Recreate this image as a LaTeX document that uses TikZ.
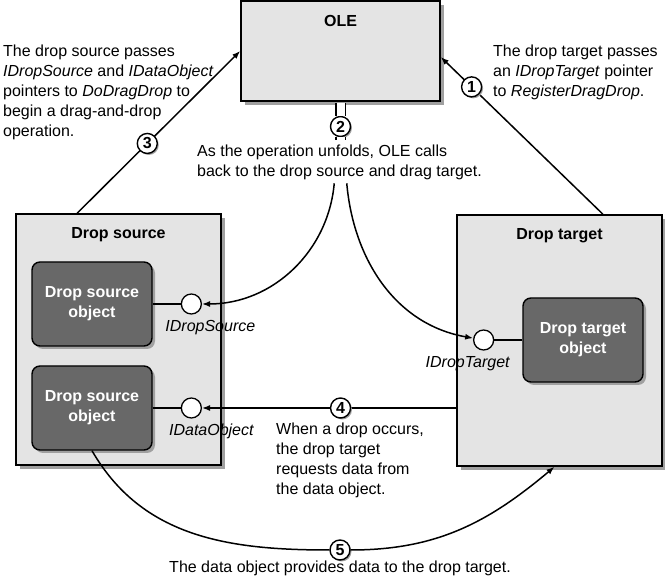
\documentclass[tikz,border=0pt]{standalone}
\usepackage{fontspec}
\setmainfont{Liberation Sans}
\usepackage{tikz}
\usetikzlibrary{arrows.meta,positioning,calc,shadows}
\definecolor{panelgray}{RGB}{228,228,228}
\definecolor{objectgray}{RGB}{104,104,104}
\definecolor{shadowgray}{RGB}{160,160,160}
\newcommand{\diagfont}{\fontsize{16}{20}\selectfont}

\begin{document}
\begin{tikzpicture}[
    x=1pt, y=1pt,
    font=\diagfont,
    panel/.style={draw, line width=1.6pt, fill=panelgray, drop shadow={shadow xshift=4pt, shadow yshift=-4pt, fill=shadowgray, opacity=1}},
    object/.style={draw, line width=1.4pt, rounded corners=8pt, fill=objectgray, text=white, align=center, font=\diagfont\bfseries, minimum width=120pt, minimum height=84pt, drop shadow={shadow xshift=3pt, shadow yshift=-3pt, fill=shadowgray, opacity=1}},
    title/.style={font=\diagfont\bfseries},
    iface/.style={circle, draw, line width=1.3pt, fill=white, minimum size=20pt, inner sep=0pt},
    ifacelabel/.style={font=\diagfont\itshape, inner sep=0pt},
    numcircle/.style={circle, draw, line width=1.4pt, fill=white, minimum size=20pt, inner sep=0pt, font=\diagfont\bfseries, drop shadow={shadow xshift=1.5pt, shadow yshift=-1.5pt, fill=shadowgray, opacity=1}},
    desc/.style={align=left, inner sep=0pt},
    link/.style={line width=1.5pt},
    pipe/.style={double, double distance=8pt, line width=1.3pt},
    arrow/.style={-{Latex[length=8pt,width=6pt]}, line width=1.5pt}
  ]
    \useasboundingbox (0,0) rectangle (665,579);

    % containers
    \node[panel, minimum width=199pt, minimum height=100pt] (ole) at (340.5,528) {};
    \node[title] (oletitle) at ([yshift=-21pt]ole.north) {OLE};
    \node[panel, minimum width=205pt, minimum height=251pt] (src) at (118.5,239.5) {};
    \node[title] (srctitle) at ([yshift=-21pt]src.north) {Drop source};
    \node[panel, minimum width=205pt, minimum height=251pt] (tgt) at (559.5,238.5) {};
    \node[title] (tgttitle) at ([yshift=-21pt]tgt.north) {Drop target};

    % objects and interfaces
    \node[object] (srcobj) at (92,275) {Drop source\\object};
    \node[object] (dataobj) at (92,171) {Drop source\\object};
    \node[object] (tgtobj) at (583,239) {Drop target\\object};
    \node[iface, right=28pt of srcobj] (ifsrc) {};
    \node[iface, right=28pt of dataobj] (ifdata) {};
    \node[iface, left=28pt of tgtobj] (iftgt) {};
    \node[ifacelabel, below=5pt of ifsrc, xshift=19pt] (ifsrclabel) {IDropSource};
    \node[ifacelabel, below=5pt of ifdata, xshift=20pt] (ifdatalabel) {IDataObject};
    \node[ifacelabel, below=6pt of iftgt, xshift=-16pt] (iftgtlabel) {IDropTarget};
    \draw[link] (srcobj) -- (ifsrc);
    \draw[link] (dataobj) -- (ifdata);
    \draw[link] (tgtobj) -- (iftgt);

    % step 1 and 3
    \coordinate (srcout) at ($(src.north west)!0.3!(src.north east)$);
    \coordinate (tgtout) at ($(tgt.north west)!0.71!(tgt.north east)$);
    \draw[arrow] (srcout) -- node[numcircle, pos=0.43] (s3) {3} (ole.west);
    \draw[arrow] (tgtout) -- node[numcircle, pos=0.81] (s1) {1} ([yshift=-6pt]ole.east);
    \node[desc, anchor=north west] (desc3) at (3,534) {The drop source passes\\\textit{IDropSource} and \textit{IDataObject}\\pointers to \textit{DoDragDrop} to\\begin a drag-and-drop\\operation.};
    \node[desc, anchor=north west] (desc1) at (493,534) {The drop target passes\\an \textit{IDropTarget} pointer\\to \textit{RegisterDragDrop}.};

    % step 2
    \node[numcircle, below=14pt of ole] (s2) {2};
    \node[desc, anchor=north west] (desc2) at (197,434) {As the operation unfolds, OLE calls\\back to the drop source and drag target.};
    \draw[pipe, shorten <=0.8pt] (ole.south) -- (s2);
    \draw[pipe, shorten >=5pt] (s2) -- (s2 |- desc2.north);
    \draw[arrow, shorten <=3pt] ($(s2 |- desc2.south)+(-6,0)$) to[out=-95, in=0] (ifsrc);
    \draw[arrow, shorten <=3pt] ($(s2 |- desc2.south)+(6,0)$) to[out=-85, in=170] (iftgt);

    % step 4
    \draw[arrow] (tgt.west |- ifdata) -- node[numcircle, pos=0.455] (s4) {4} (ifdata);
    \node[desc, anchor=north west] (desc4) at (276,156) {When a drop occurs,\\the drop target\\requests data from\\the data object.};

    % step 5
    \node[numcircle] (s5) at (340,29) {5};
    \draw[arrow] (dataobj.south) to[out=-60, in=180] (s5) to[out=0, in=-140] ([xshift=-5pt]tgt.south);
    \node[desc] (desc5) at (340,11) {The data object provides data to the drop target.};
  \end{tikzpicture}
\end{document}
